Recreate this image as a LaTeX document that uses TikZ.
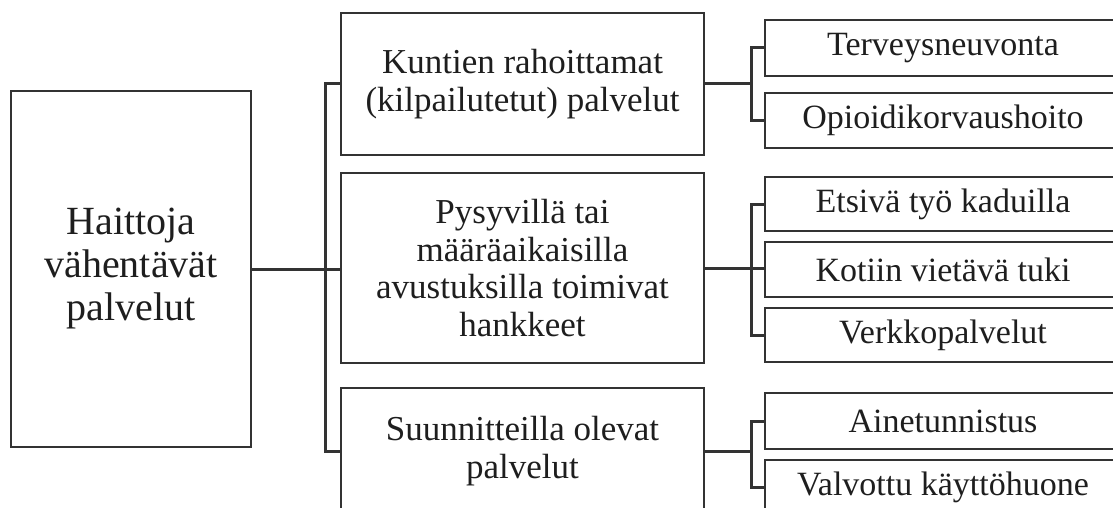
\documentclass[tikz,border=0pt]{standalone}
\usepackage{fontspec}
\setmainfont{Liberation Serif}
\definecolor{boxline}{HTML}{333333}
\definecolor{inktext}{HTML}{1E1E1E}
\tikzset{
  paabox/.style={draw=boxline, line width=2pt, inner sep=0pt, align=center, text=inktext,
    font=\fontsize{40}{43}\selectfont},
  ryhmabox/.style={draw=boxline, line width=2pt, inner sep=0pt, align=center, text=inktext,
    minimum width=363pt, font=\fontsize{35}{37.5}\selectfont},
  palvbox/.style={draw=boxline, line width=2pt, inner sep=0pt, align=center, text=inktext,
    minimum width=356pt, font=\fontsize{34}{37}\selectfont},
  haara/.style={draw=boxline, line width=3pt}
}
\begin{document}
\begin{tikzpicture}[x=1pt,y=1pt,yscale=-1]
\useasboundingbox (0,0) rectangle (1113,508);

%Shape: Main box
\node [paabox, minimum width=240pt, minimum height=356pt] (haitta) at (131,269) {Haittoja\\vähentävät\\palvelut};

%Shape: Group boxes
\node [ryhmabox, minimum height=142pt] (kunnat) at (522.5,84) {Kuntien rahoittamat\\(kilpailutetut) palvelut};
\node [ryhmabox, minimum height=190pt] (hankkeet) at (522.5,268) {Pysyvillä tai\\määräaikaisilla\\avustuksilla toimivat\\hankkeet};
\node [ryhmabox, minimum height=126pt] (suunn) at (522.5,451) {Suunnitteilla olevat\\palvelut};

%Shape: Service boxes
\node [palvbox, minimum height=56pt] (terveys) at (943,48) {Terveysneuvonta};
\node [palvbox, minimum height=55pt] (opioidi) at (943,120.5) {Opioidikorvaushoito};
\node [palvbox, minimum height=54pt] (etsiva) at (943,204) {Etsivä työ kaduilla};
\node [palvbox, minimum height=55pt] (kotiin) at (943,269.5) {Kotiin vietävä tuki};
\node [palvbox, minimum height=54pt] (verkko) at (943,335) {Verkkopalvelut};
\node [palvbox, minimum height=56pt] (aine) at (943,421) {Ainetunnistus};
\node [palvbox, minimum height=54pt] (valvottu) at (943,487) {Valvottu käyttöhuone};

%Connectors: main box to groups
\draw [haara] (haitta.east) -- (haitta.east -| hankkeet.west);
\draw [haara] (kunnat.west) -- ++(-15,0) |- (suunn.west);

%Connectors: groups to services
\draw [haara] (kunnat.east) -- ++(46,0) coordinate (k1);
\draw [haara] (terveys.west) -| (k1) |- (opioidi.west);
\draw [haara] (hankkeet.east) -- ++(46,0) coordinate (k2);
\draw [haara] (etsiva.west) -| (k2) |- (verkko.west);
\draw [haara] (k2) -- (k2 -| kotiin.west);
\draw [haara] (suunn.east) -- ++(46,0) coordinate (k3);
\draw [haara] (aine.west) -| (k3) |- (valvottu.west);

\end{tikzpicture}
\end{document}
